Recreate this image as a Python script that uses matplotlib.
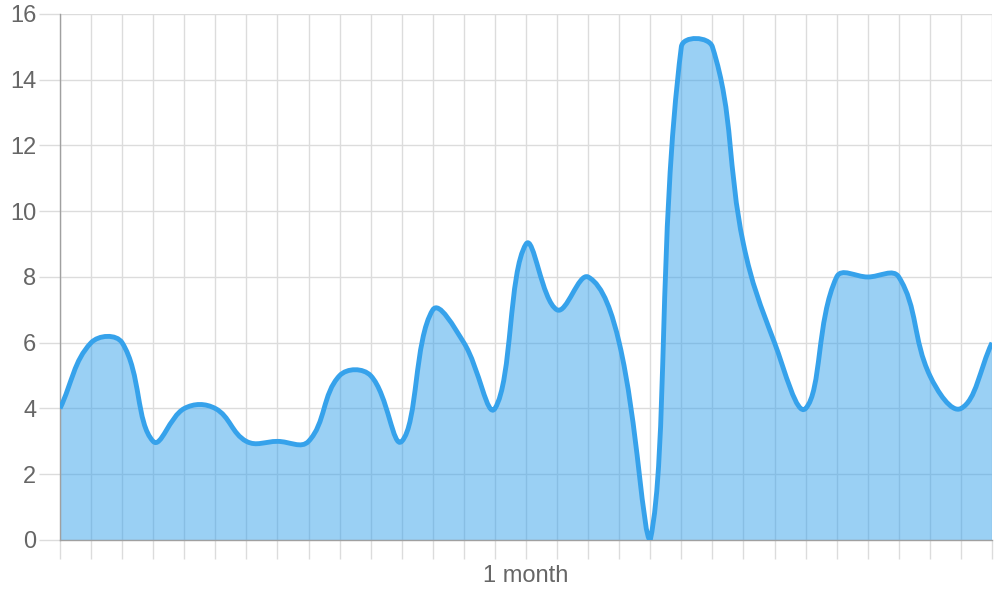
import numpy as np
import matplotlib
matplotlib.use("Agg")
import matplotlib.pyplot as plt
from matplotlib.path import Path
from matplotlib.patches import PathPatch

# --- data ---
days = list(range(31))
values = [4, 6, 6, 3, 4, 4, 3, 3, 3, 5, 5, 3, 7, 6, 4, 9, 7, 8, 6, 0,
          15, 15, 9, 6, 4, 8, 8, 8, 5, 4, 6]
tick_labels = [""] * 31
tick_labels[15] = "1 month"
y_ticks = [0, 2, 4, 6, 8, 10, 12, 14, 16]

LINE = "#36a2eb"
FILL = (54 / 255, 162 / 255, 235 / 255, 0.5)
GRID = "#dcdcdc"
TEXT = "#666666"

plt.rcParams['font.family'] = ['Liberation Sans', 'DejaVu Sans']

fig = plt.figure(figsize=(10, 6), dpi=100)
ax = fig.add_axes([0.06, 0.1, 0.932, 0.8767])
ax.set_xlim(0, 30)
ax.set_ylim(0, 16)


def bezier_path(xs, ys, ax, tension=0.4):
    # chart.js style spline: control points worked out in pixel space
    pts = ax.transData.transform(np.column_stack([xs, ys]))
    x0, y0 = ax.transData.transform((0, 0))
    x1, y1 = ax.transData.transform((30, 16))
    n = len(pts)
    cps = []
    for i in range(n):
        cur = pts[i]
        prev = pts[i - 1] if i > 0 else cur
        nxt = pts[i + 1] if i < n - 1 else cur
        d01 = np.hypot(*(cur - prev))
        d12 = np.hypot(*(nxt - cur))
        tot = d01 + d12
        s01 = d01 / tot if tot else 0
        s12 = d12 / tot if tot else 0
        cp_prev = cur - tension * s01 * (nxt - prev)
        cp_next = cur + tension * s12 * (nxt - prev)
        for cp in (cp_prev, cp_next):
            cp[0] = min(max(cp[0], x0), x1)
            cp[1] = min(max(cp[1], y0), y1)
        cps.append((cp_prev, cp_next))
    verts = [pts[0]]
    codes = [Path.MOVETO]
    for i in range(n - 1):
        verts += [cps[i][1], cps[i + 1][0], pts[i + 1]]
        codes += [Path.CURVE4] * 3
    inv = ax.transData.inverted()
    return inv.transform(np.array(verts)), codes


fig.canvas.draw()
verts, codes = bezier_path(days, values, ax)

# fill down to zero
fill_verts = np.vstack([verts, [[days[-1], 0], [days[0], 0], verts[0]]])
fill_codes = codes + [Path.LINETO, Path.LINETO, Path.CLOSEPOLY]
ax.add_patch(PathPatch(Path(fill_verts, fill_codes), facecolor=FILL,
                       edgecolor="none", zorder=2))
ax.add_patch(PathPatch(Path(verts, codes), facecolor="none", edgecolor=LINE,
                       lw=3.5, zorder=3, capstyle="butt", joinstyle="round"))

ax.set_xticks(days)
ax.set_xticklabels(tick_labels)
ax.set_yticks(y_ticks)
ax.grid(True, color=GRID, lw=1.0, zorder=0)
ax.set_axisbelow(True)

ax.tick_params(axis="x", length=14, width=1.0, color=GRID, pad=4,
               labelsize=17, labelcolor=TEXT)
ax.tick_params(axis="y", length=15, width=1.0, color=GRID, pad=2,
               labelsize=17, labelcolor=TEXT)

for s in ("top", "right"):
    ax.spines[s].set_visible(False)
for s in ("left", "bottom"):
    ax.spines[s].set_color("#a0a0a0")
    ax.spines[s].set_linewidth(1.0)

plt.savefig("out.png", dpi=100)
